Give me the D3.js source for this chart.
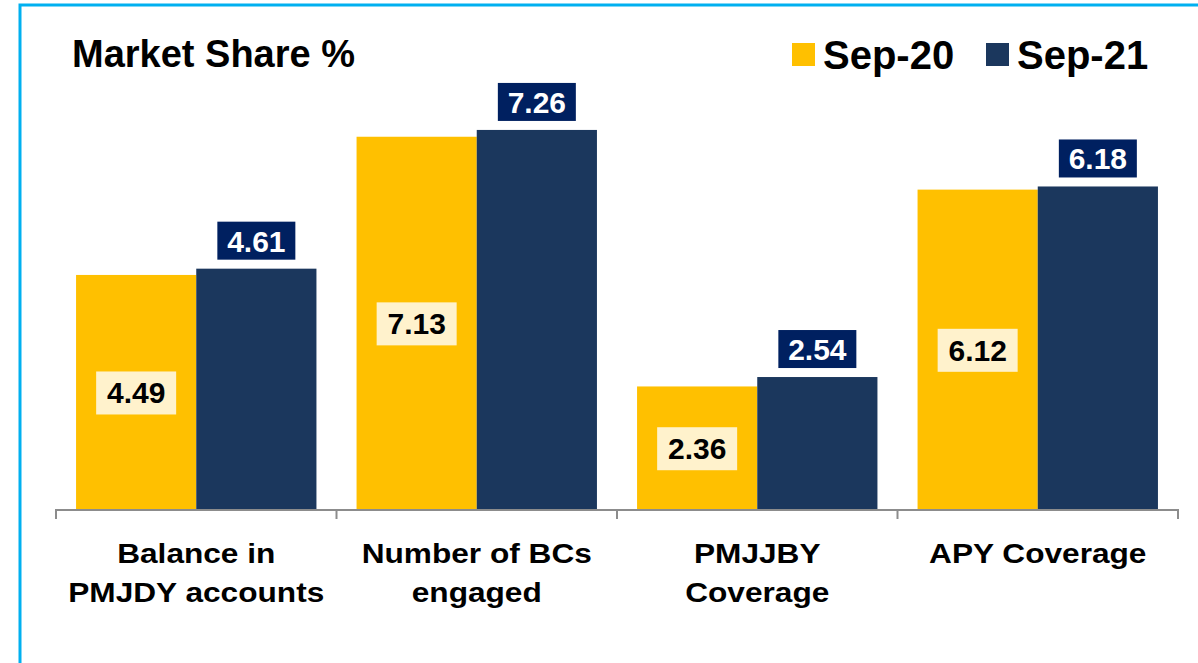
<!DOCTYPE html>
<html>
<head>
<meta charset="utf-8">
<script src="https://cdn.jsdelivr.net/npm/d3@7"></script>
<style>
  body { margin: 0; background: #fff; }
  text { font-family: "Liberation Sans", Arial, sans-serif; font-weight: bold; }
</style>
</head>
<body>
<div id="chart"></div>
<script>
// data
const categories = [["Balance in", "PMJDY accounts"], ["Number of BCs", "engaged"], ["PMJJBY", "Coverage"], ["APY Coverage"]];
const seriesNames = ["Sep-20", "Sep-21"];
const sep20 = [4.49, 7.13, 2.36, 6.12];
const sep21 = [4.61, 7.26, 2.54, 6.18];
const colors = ["#FFC000", "#1B375D"];

const W = 1198, H = 663;
const baseY = 510, axisX0 = 56, axisX1 = 1178;

const svg = d3.select("#chart").append("svg")
  .attr("width", W).attr("height", H);

// cyan frame
svg.append("rect")
  .attr("x", 20).attr("y", 5)
  .attr("width", 1220).attr("height", 720)
  .attr("fill", "none")
  .attr("stroke", "#00B0F0")
  .attr("stroke-width", 3);

const idx = d3.range(categories.length);

const x = d3.scaleBand()
  .domain(idx)
  .range([axisX0, axisX1])
  .paddingInner(0.143)
  .paddingOuter(0.0715);

const xs = d3.scaleBand()
  .domain([0, 1])
  .range([0, x.bandwidth()]);

const y = d3.scaleLinear()
  .domain([0, 8])
  .range([baseY, baseY - 8 * 52.35]);

const txt = (g, tx, ty, s, size, fill, sx) => g.append("text")
  .attr("transform", `translate(${tx},${ty}) scale(${sx || 1},1)`)
  .attr("text-anchor", "middle")
  .attr("font-size", size)
  .attr("fill", fill)
  .text(s);

const groups = svg.append("g").selectAll("g")
  .data(idx)
  .join("g")
  .attr("transform", i => `translate(${x(i)},0)`);

// bars
groups.append("rect")
  .attr("x", xs(0)).attr("width", xs.bandwidth())
  .attr("y", i => y(sep20[i]))
  .attr("height", i => baseY - y(sep20[i]))
  .attr("fill", colors[0]);

groups.append("rect")
  .attr("x", xs(1)).attr("width", xs.bandwidth())
  .attr("y", i => y(sep21[i]))
  .attr("height", i => baseY - y(sep21[i]))
  .attr("fill", colors[1]);

groups.each(function (i) {
  const g = d3.select(this);
  // Sep-20 labels, middle of the bar on a pale box
  const cx = xs(0) + xs.bandwidth() / 2;
  const cy = (y(sep20[i]) + baseY) / 2;
  g.append("rect")
    .attr("x", cx - 40).attr("y", cy - 21)
    .attr("width", 80).attr("height", 43)
    .attr("fill", "#FFF2CC");
  txt(g, cx, cy + 11, sep20[i].toFixed(2), 30, "#000");

  // Sep-21 labels, above the bar on a navy box
  const cx2 = xs(1) + xs.bandwidth() / 2;
  const top = y(sep21[i]) - 9;
  g.append("rect")
    .attr("x", cx2 - 39).attr("y", top - 38)
    .attr("width", 78).attr("height", 38)
    .attr("fill", "#002060");
  txt(g, cx2, top - 8, sep21[i].toFixed(2), 30, "#fff");
});

// x axis with ticks at the category edges
const axis = svg.append("g")
  .attr("transform", `translate(0,${baseY})`)
  .call(d3.axisBottom(x).tickSize(0).tickFormat(""));
axis.select(".domain").attr("stroke", "#8C8C8C").attr("stroke-width", 2)
  .attr("d", `M${axisX0},9V0H${axisX1}V9`);
const edges = d3.range(categories.length + 1).map(i => axisX0 + i * (axisX1 - axisX0) / categories.length);
axis.selectAll(".edge").data(edges.slice(1, -1)).join("line")
  .attr("x1", d => d).attr("x2", d => d)
  .attr("y1", 0).attr("y2", 9)
  .attr("stroke", "#8C8C8C").attr("stroke-width", 2);

// category labels
idx.forEach(i => {
  const cx = x(i) + x.bandwidth() / 2;
  categories[i].forEach((line, k) => {
    txt(svg, cx, 563 + k * 39, line, 28, "#000", 1.13);
  });
});

// title
svg.append("text")
  .attr("x", 72).attr("y", 67)
  .attr("font-size", 38)
  .attr("fill", "#000")
  .text("Market Share %");

// legend
const legX = [792, 986];
seriesNames.forEach((n, k) => {
  svg.append("rect")
    .attr("x", legX[k]).attr("y", 43)
    .attr("width", 23).attr("height", 23)
    .attr("fill", colors[k]);
  svg.append("text")
    .attr("x", legX[k] + 31).attr("y", 69)
    .attr("font-size", 40)
    .attr("fill", "#000")
    .text(n);
});
</script>
</body>
</html>
